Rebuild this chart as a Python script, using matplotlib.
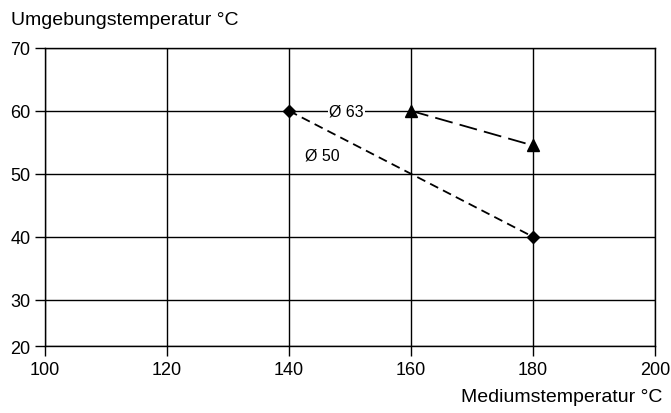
import numpy as np
import matplotlib.pyplot as plt

plt.rcParams['font.family'] = ['Liberation Sans', 'DejaVu Sans']

# Data
x_d50 = [140, 180]
y_d50 = [60, 40]
x_d63 = [160, 180]
y_d63 = [60, 54.5]

x_ticks = [100, 120, 140, 160, 180, 200]
y_ticks = [20, 30, 40, 50, 60, 70]

# the lowest interval (20-30) is drawn compressed in the original
squash = 0.74
def fwd(y):
    y = np.asarray(y, dtype=float)
    return np.where(y >= 30, y, 30 - (30 - y) * squash)
def inv(y):
    y = np.asarray(y, dtype=float)
    return np.where(y >= 30, y, 30 - (30 - y) / squash)

fig = plt.figure(figsize=(6.71, 4.14), dpi=100)
ax = fig.add_axes([0.067, 0.161, 0.909, 0.721])
ax.set_yscale('function', functions=(fwd, inv))

ax.plot(x_d50, y_d50, color='black', lw=1.3, dashes=(5, 3),
        marker='D', markersize=6, zorder=3)
ax.plot(x_d63, y_d63, color='black', lw=1.3, dashes=(10, 4),
        marker='^', markersize=8, zorder=3)

ax.text(149.4, 60, 'Ø 63', fontsize=11.5, ha='center', va='center',
        bbox=dict(facecolor='white', edgecolor='none', pad=1), zorder=2)
ax.text(145.5, 53, 'Ø 50', fontsize=11.5, ha='center', va='center', zorder=2)

ax.set_xlim(100, 200)
ax.set_ylim(20, 70)
ax.set_xticks(x_ticks)
ax.set_yticks(y_ticks)
ax.minorticks_off()
ax.grid(True, color='black', lw=1)
ax.tick_params(direction='out', length=7, width=1, labelsize=13, color='black')
for s in ax.spines.values():
    s.set_color('black')
    s.set_linewidth(1)

fig.text(0.016, 0.951, 'Umgebungstemperatur °C', fontsize=14, ha='left', va='center')
fig.text(0.987, 0.04, 'Mediumstemperatur °C', fontsize=14, ha='right', va='center')

plt.savefig('out.png', dpi=100)
